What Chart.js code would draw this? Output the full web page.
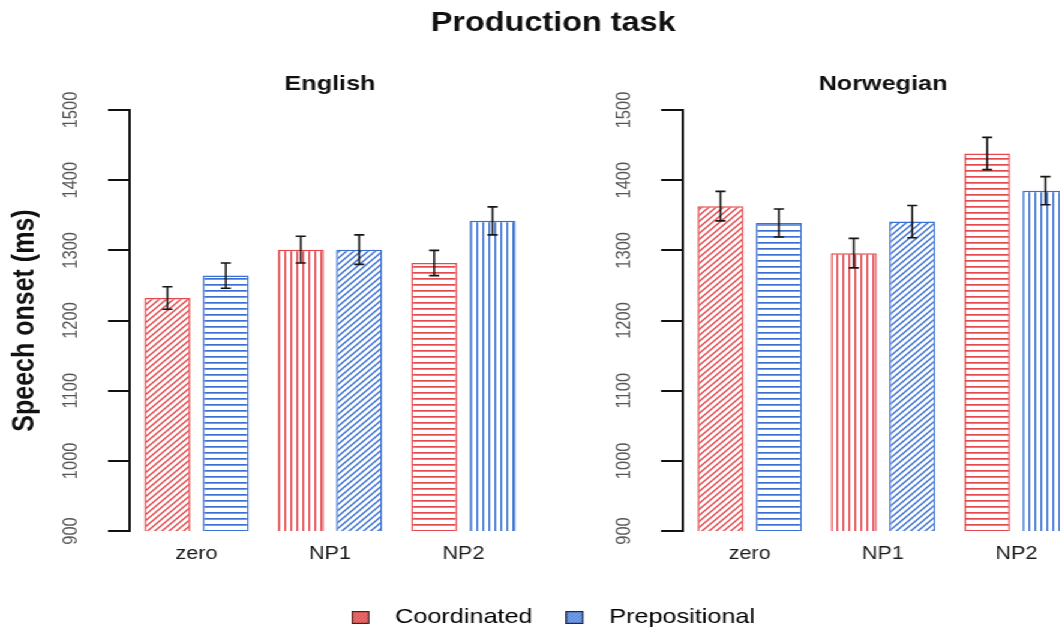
<!DOCTYPE html>
<html>
<head>
<meta charset="utf-8">
<script src="https://cdn.jsdelivr.net/npm/chart.js@4.4.1/dist/chart.umd.min.js"></script>
<style>
  html, body { margin: 0; padding: 0; background: #fff; overflow: hidden; width: 1060px; height: 632px; }
  /* the figure is laid out on a narrower canvas and widened 1.2x */
  #stage { position: absolute; left: 0; top: 0; width: 922px; height: 638px; transform: scaleX(1.2); transform-origin: 0 0; }
  #stage canvas { position: absolute; left: 0; top: 0; }
</style>
</head>
<body>
<div id="stage">
  <canvas id="english" width="922" height="638"></canvas>
  <canvas id="norwegian" width="922" height="638"></canvas>
</div>
<script>
// ---- data (speech onset, ms; error = half-length of the error bar) ----
const conditions = ['zero', 'NP1', 'NP2'];
const seriesNames = ['Coordinated', 'Prepositional'];
const yTicks = [900, 1000, 1100, 1200, 1300, 1400, 1500];

const englishCoordinated      = [1232, 1301, 1282];
const englishCoordinatedErr   = [16, 19, 18];
const englishPrepositional    = [1264, 1301, 1342];
const englishPrepositionalErr = [18, 21, 20];

const norwegianCoordinated      = [1363, 1296, 1438];
const norwegianCoordinatedErr   = [21, 21, 23];
const norwegianPrepositional    = [1339, 1341, 1385];
const norwegianPrepositionalErr = [20, 23, 20];

// ---- styling ----
const FONT = '"Liberation Sans", Arial, Helvetica, sans-serif';
const RED = '#e4484c';
const BLUE = '#3a70d2';
Chart.defaults.font.family = FONT;

function hatch(kind, color) {
  const c = document.createElement('canvas');
  const w = kind === 'vertical' ? 5 : 6;
  const h = 6;
  c.width = w; c.height = h;
  const g = c.getContext('2d');
  g.fillStyle = '#ffffff';
  g.fillRect(0, 0, w, h);
  g.fillStyle = color;
  g.strokeStyle = color;
  if (kind === 'vertical') {
    g.fillRect(2, 0, 1.4, h);
  } else if (kind === 'horizontal') {
    g.fillRect(0, 2, w, 1.7);
  } else {
    g.lineWidth = 1.45;
    g.beginPath();
    for (const off of [-w, 0, w]) {
      g.moveTo(off - 1, h + 1);
      g.lineTo(off + w + 1, -1);
    }
    g.stroke();
  }
  return c.getContext('2d').createPattern(c, 'repeat');
}

function swatch(fill, line, edge) {
  const c = document.createElement('canvas');
  c.width = 26; c.height = 13;
  const g = c.getContext('2d');
  g.save();
  g.beginPath(); g.rect(0.5, 0.5, 14, 12); g.clip();
  g.fillStyle = fill; g.fillRect(0, 0, 15, 13);
  g.strokeStyle = line; g.lineWidth = 0.9;
  g.beginPath();
  for (let k = -14; k < 28; k += 3) { g.moveTo(k, 13); g.lineTo(k + 13, 0); }
  g.stroke();
  g.restore();
  g.strokeStyle = edge; g.lineWidth = 1.2;
  g.strokeRect(0.6, 0.6, 13.8, 11.8);
  return c;
}

const redFill  = [hatch('diagonal', RED), hatch('vertical', RED), hatch('horizontal', RED)];
const blueFill = [hatch('horizontal', BLUE), hatch('diagonal', BLUE), hatch('vertical', BLUE)];

function datasets(coord, coordErr, prep, prepErr) {
  const common = { borderWidth: 1.5, borderSkipped: 'start', categoryPercentage: 0.876, barPercentage: 0.786, xAxisID: 'x', yAxisID: 'y' };
  return [
    Object.assign({ label: seriesNames[0], data: coord, errors: coordErr, backgroundColor: redFill, borderColor: RED }, common),
    Object.assign({ label: seriesNames[1], data: prep, errors: prepErr, backgroundColor: blueFill, borderColor: BLUE }, common)
  ];
}

// vertical error bars with caps, positioned from the bar elements and y scale
const errorBars = {
  id: 'errorBars',
  afterDatasetsDraw(chart) {
    const ctx = chart.ctx;
    const y = chart.scales.y;
    ctx.save();
    ctx.strokeStyle = '#151515';
    ctx.lineWidth = 1.6;
    chart.data.datasets.forEach((ds, i) => {
      chart.getDatasetMeta(i).data.forEach((bar, j) => {
        const v = ds.data[j], e = ds.errors[j];
        const top = y.getPixelForValue(v + e);
        const bot = y.getPixelForValue(v - e);
        const hw = 4.2;
        ctx.beginPath();
        ctx.moveTo(bar.x, top); ctx.lineTo(bar.x, bot);
        ctx.moveTo(bar.x - hw, top); ctx.lineTo(bar.x + hw, top);
        ctx.moveTo(bar.x - hw, bot); ctx.lineTo(bar.x + hw, bot);
        ctx.stroke();
      });
    });
    ctx.restore();
  }
};

function yAxis(showTitle) {
  return {
    type: 'linear', position: 'left', min: 900, max: 1500,
    afterBuildTicks: s => { s.ticks = yTicks.map(v => ({ value: v })); },
    afterFit: s => { s.width = 108.3; },
    border: { display: true, color: '#111', width: 2 },
    grid: { display: true, drawOnChartArea: false, drawTicks: true, tickLength: 18.3, color: '#111', lineWidth: 2 },
    ticks: { minRotation: 90, maxRotation: 90, crossAlign: 'center', padding: 12.5, color: '#555', autoSkip: false,
             callback: v => String(v), font: { family: FONT, size: 16.5 } },
    title: { display: showTitle, text: 'Speech onset (ms)', color: '#111',
             font: { family: FONT, size: 25, weight: 'bold', lineHeight: 1 }, padding: { top: 8.3, bottom: 0 } }
  };
}

function xAxis() {
  return {
    type: 'category', labels: conditions, position: 'bottom',
    afterFit: s => { s.height = 48.5; },
    grid: { display: false, drawTicks: false },
    border: { display: false },
    ticks: { color: '#1c1c1c', padding: 12, maxRotation: 0, autoSkip: false, font: { family: FONT, size: 18 } }
  };
}

const subtitleFont = { family: FONT, size: 21, weight: 'bold', lineHeight: 1 };

new Chart(document.getElementById('english'), {
  type: 'bar',
  data: { labels: conditions, datasets: datasets(englishCoordinated, englishCoordinatedErr, englishPrepositional, englishPrepositionalErr) },
  options: {
    responsive: false, animation: false, devicePixelRatio: 1,
    layout: { padding: 0 },
    scales: {
      x: xAxis(),
      y: yAxis(true),
      // empty space on the right, holding the second panel
      rest: { type: 'linear', position: 'right', display: true,
              grid: { display: false, drawTicks: false }, border: { display: false }, ticks: { display: false },
              afterFit: s => { s.width = 922 - 441.7; } }
    },
    plugins: {
      title: { display: true, text: 'Production task', color: '#111',
               font: { family: FONT, size: 27, weight: 'bold', lineHeight: 1 }, padding: { top: 10.5, bottom: 0 } },
      subtitle: { display: true, text: 'English', color: '#111', fullSize: false,
                  font: subtitleFont, padding: { top: 36, bottom: 15.5 } },
      legend: {
        display: true, position: 'bottom',
        labels: {
          usePointStyle: true, pointStyleWidth: 26, padding: 27.5, color: '#333',
          font: { family: FONT, size: 21 },
          generateLabels: () => [
            { text: seriesNames[0], pointStyle: swatch('#f07070', '#c94848', '#4a2222'), fillStyle: RED, strokeStyle: RED, lineWidth: 0, hidden: false, datasetIndex: 0 },
            { text: seriesNames[1], pointStyle: swatch('#7ea5ec', '#3f6fcc', '#1d2b4f'), fillStyle: BLUE, strokeStyle: BLUE, lineWidth: 0, hidden: false, datasetIndex: 1 }
          ]
        }
      },
      tooltip: { enabled: false }
    }
  },
  plugins: [errorBars]
});

new Chart(document.getElementById('norwegian'), {
  type: 'bar',
  data: { labels: conditions, datasets: datasets(norwegianCoordinated, norwegianCoordinatedErr, norwegianPrepositional, norwegianPrepositionalErr) },
  options: {
    responsive: false, animation: false, devicePixelRatio: 1,
    layout: { padding: { left: 460.9, right: 19.5, top: 0, bottom: 58.5 } },
    scales: { x: xAxis(), y: yAxis(false) },
    plugins: {
      title: { display: true, text: 'Norwegian', color: '#111', fullSize: false,
               font: subtitleFont, padding: { top: 73.5, bottom: 15.5 } },
      legend: { display: false },
      tooltip: { enabled: false }
    }
  },
  plugins: [errorBars]
});
</script>
</body>
</html>
